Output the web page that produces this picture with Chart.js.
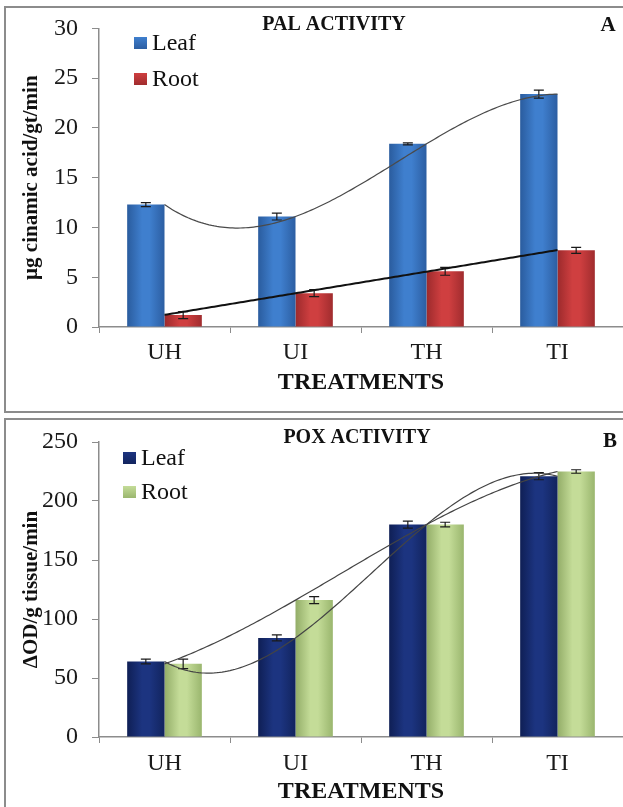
<!DOCTYPE html>
<html>
<head>
<meta charset="utf-8">
<script src="https://cdn.jsdelivr.net/npm/chart.js@4.4.1/dist/chart.umd.min.js"></script>
<style>
  body { margin: 0; background: #fff; width: 623px; height: 807px; overflow: hidden; position: relative; }
  .frame { position: absolute; border: 2px solid #8c8c8c; box-sizing: border-box; }
  .box { position: absolute; left: 0; width: 623px; }
</style>
</head>
<body>
<div class="frame" style="left:4px;top:6px;width:640px;height:407px"></div>
<div class="frame" style="left:4px;top:418px;width:640px;height:400px"></div>
<div class="box" style="top:0;height:412px"><canvas id="palChart"></canvas></div>
<div class="box" style="top:412px;height:395px"><canvas id="poxChart"></canvas></div>
<script>
const treatments = ["UH", "UI", "TH", "TI"];

// PAL activity (µg cinamic acid/gt/min)
const palLeaf = [12.3, 11.1, 18.4, 23.4];
const palLeafErr = [0.2, 0.35, 0.1, 0.4];
const palRoot = [1.2, 3.4, 5.6, 7.7];
const palRootErr = [0.35, 0.35, 0.4, 0.3];
const palTicks = [0, 5, 10, 15, 20, 25, 30];

// POX activity (ΔOD/g tissue/min)
const poxLeaf = [64, 84, 180, 221];
const poxLeafErr = [2, 2.5, 3, 3];
const poxRoot = [62, 116, 180, 225];
const poxRootErr = [4, 3, 2, 1.5];
const poxTicks = [0, 50, 100, 150, 200, 250];

const SERIF = "'Liberation Serif', 'Times New Roman', serif";
Chart.defaults.font.family = SERIF;
Chart.defaults.color = "#1a1a1a";

// least squares polynomial, x = 0..n-1 (same as an Excel trendline)
function fitPoly(ys, degree) {
  const n = degree + 1;
  const A = [], b = [];
  for (let r = 0; r < n; r++) { A.push(new Array(n).fill(0)); b.push(0); }
  ys.forEach((y, x) => {
    for (let r = 0; r < n; r++) {
      for (let c = 0; c < n; c++) A[r][c] += Math.pow(x, r + c);
      b[r] += y * Math.pow(x, r);
    }
  });
  for (let i = 0; i < n; i++) {
    let p = i;
    for (let k = i + 1; k < n; k++) if (Math.abs(A[k][i]) > Math.abs(A[p][i])) p = k;
    [A[i], A[p]] = [A[p], A[i]];
    [b[i], b[p]] = [b[p], b[i]];
    for (let k = i + 1; k < n; k++) {
      const f = A[k][i] / A[i][i];
      for (let c = i; c < n; c++) A[k][c] -= f * A[i][c];
      b[k] -= f * b[i];
    }
  }
  const coef = new Array(n).fill(0);
  for (let i = n - 1; i >= 0; i--) {
    let s = b[i];
    for (let c = i + 1; c < n; c++) s -= A[i][c] * coef[c];
    coef[i] = s / A[i][i];
  }
  return coef;
}

const barShade = {
  id: "barShade",
  beforeDatasetsDraw(chart) {
    const ctx = chart.ctx;
    chart.data.datasets.forEach((ds, i) => {
      chart.getDatasetMeta(i).data.forEach(bar => {
        const g = ctx.createLinearGradient(bar.x - bar.width / 2, 0, bar.x + bar.width / 2, 0);
        g.addColorStop(0, ds.shades[0]);
        g.addColorStop(0.4, ds.shades[1]);
        g.addColorStop(0.6, ds.shades[1]);
        g.addColorStop(1, ds.shades[2]);
        bar.options = Object.assign({}, bar.options, { backgroundColor: g });
      });
    });
  }
};

const errorBars = {
  id: "errorBars",
  afterDatasetsDraw(chart) {
    const ctx = chart.ctx, y = chart.scales.y;
    ctx.save();
    ctx.strokeStyle = "#1a1a1a";
    ctx.lineWidth = 1.2;
    chart.data.datasets.forEach((ds, i) => {
      chart.getDatasetMeta(i).data.forEach((bar, j) => {
        const top = y.getPixelForValue(ds.data[j] + ds.errors[j]);
        const bot = y.getPixelForValue(ds.data[j] - ds.errors[j]);
        ctx.beginPath();
        ctx.moveTo(bar.x, top); ctx.lineTo(bar.x, bot);
        ctx.moveTo(bar.x - 5, top); ctx.lineTo(bar.x + 5, top);
        ctx.moveTo(bar.x - 5, bot); ctx.lineTo(bar.x + 5, bot);
        ctx.stroke();
      });
    });
    ctx.restore();
  }
};

const trendLines = {
  id: "trendLines",
  afterDatasetsDraw(chart) {
    const ctx = chart.ctx, x = chart.scales.x, y = chart.scales.y;
    ctx.save();
    chart.data.datasets.forEach(ds => {
      const coef = fitPoly(ds.data, ds.trend.degree);
      const f = t => coef.reduce((s, c, k) => s + c * Math.pow(t, k), 0);
      ctx.strokeStyle = ds.trend.color;
      ctx.lineWidth = ds.trend.width;
      ctx.beginPath();
      const last = ds.data.length - 1;
      for (let t = 0; t <= last + 1e-9; t += 0.02) {
        const px = x.getPixelForValue(t), py = y.getPixelForValue(f(t));
        if (t === 0) ctx.moveTo(px, py); else ctx.lineTo(px, py);
      }
      ctx.stroke();
    });
    ctx.restore();
  }
};

const panelText = {
  id: "panelText",
  afterDraw(chart, args, o) {
    const ctx = chart.ctx;
    ctx.save();
    ctx.fillStyle = "#111";
    ctx.textBaseline = "middle";
    ctx.textAlign = "center";
    ctx.font = "bold 20px " + SERIF;
    ctx.fillText(o.title, o.titleX, o.titleY);
    ctx.font = "bold 21px " + SERIF;
    ctx.fillText(o.letter, o.letterX, o.letterY);
    // legend inside the plot
    ctx.textAlign = "left";
    ctx.font = "24px " + SERIF;
    chart.data.datasets.forEach((ds, i) => {
      const ly = o.legendY[i];
      const g = ctx.createLinearGradient(0, ly - 6, 0, ly + 6);
      g.addColorStop(0, ds.shades[1]);
      g.addColorStop(1, ds.shades[2]);
      ctx.fillStyle = g;
      ctx.fillRect(o.legendX, ly - 6, 13, 12);
      ctx.fillStyle = "#111";
      ctx.fillText(ds.label, o.legendX + 18, ly + 1);
    });
    ctx.restore();
  }
};

function makeChart(id, cfg) {
  const canvasH = cfg.height;
  return new Chart(document.getElementById(id), {
    type: "bar",
    data: {
      labels: treatments,
      datasets: [
        { label: "Leaf", data: cfg.leaf, errors: cfg.leafErr, shades: cfg.leafShades, trend: cfg.leafTrend,
          backgroundColor: cfg.leafShades[1], borderWidth: 0, categoryPercentage: 0.57, barPercentage: 1 },
        { label: "Root", data: cfg.root, errors: cfg.rootErr, shades: cfg.rootShades, trend: cfg.rootTrend,
          backgroundColor: cfg.rootShades[1], borderWidth: 0, categoryPercentage: 0.57, barPercentage: 1 }
      ]
    },
    options: {
      responsive: true,
      maintainAspectRatio: false,
      animation: false,
      layout: { padding: { top: cfg.top, left: 10, right: 0, bottom: 0 } },
      plugins: {
        legend: { display: false },
        tooltip: { enabled: false },
        panelText: cfg.text
      },
      scales: {
        x: {
          grid: { drawOnChartArea: false, drawTicks: true, tickLength: 6, color: "#8c8c8c", offset: true },
          border: { color: "#8c8c8c", width: 1.5 },
          ticks: { font: { size: 24 }, padding: cfg.xTickPad, color: "#1a1a1a" },
          title: { display: true, text: "TREATMENTS", font: { size: 24, weight: "bold" }, color: "#111",
                   padding: { top: 0, bottom: cfg.xTitlePad } },
          afterFit: s => { s.height = canvasH - cfg.bottom; }
        },
        y: {
          min: 0,
          max: cfg.ticks[cfg.ticks.length - 1],
          afterBuildTicks: s => { s.ticks = cfg.ticks.map(v => ({ value: v })); },
          grid: { drawOnChartArea: false, drawTicks: true, tickLength: 7, color: "#8c8c8c" },
          border: { color: "#8c8c8c", width: 1.5 },
          ticks: { font: { size: 24 }, padding: 14, color: "#1a1a1a" },
          title: { display: true, text: cfg.yTitle, font: { size: 21, weight: "bold" }, color: "#111",
                   padding: { top: 9, bottom: 0 } },
          afterFit: s => { s.width = 89; }
        }
      }
    },
    plugins: [barShade, errorBars, trendLines, panelText]
  });
}

makeChart("palChart", {
  height: 412, top: 28, bottom: 327, xTitlePad: 15, xTickPad: 5, ticks: palTicks,
  leaf: palLeaf, leafErr: palLeafErr, root: palRoot, rootErr: palRootErr,
  leafShades: ["#2a5c9e", "#3f7fce", "#2c5ea2"],
  rootShades: ["#9c2a2c", "#cf3f40", "#a02c2e"],
  leafTrend: { degree: 3, color: "#4a4a4a", width: 1.2 },
  rootTrend: { degree: 1, color: "#111", width: 2 },
  yTitle: "µg cinamic acid/gt/min",
  text: { title: "PAL ACTIVITY", titleX: 334, titleY: 25, letter: "A", letterX: 608, letterY: 26,
          legendX: 134, legendY: [43, 79] }
});

makeChart("poxChart", {
  height: 395, top: 30, bottom: 325, xTitlePad: 1, xTickPad: 6, ticks: poxTicks,
  leaf: poxLeaf, leafErr: poxLeafErr, root: poxRoot, rootErr: poxRootErr,
  leafShades: ["#0f1f55", "#1c3480", "#12245e"],
  rootShades: ["#93ad68", "#c4dc98", "#9ab66e"],
  leafTrend: { degree: 3, color: "#444", width: 1.2 },
  rootTrend: { degree: 3, color: "#444", width: 1.2 },
  yTitle: "ΔOD/g tissue/min",
  text: { title: "POX ACTIVITY", titleX: 357, titleY: 26, letter: "B", letterX: 610, letterY: 30,
          legendX: 123, legendY: [46, 80] }
});
</script>
</body>
</html>
